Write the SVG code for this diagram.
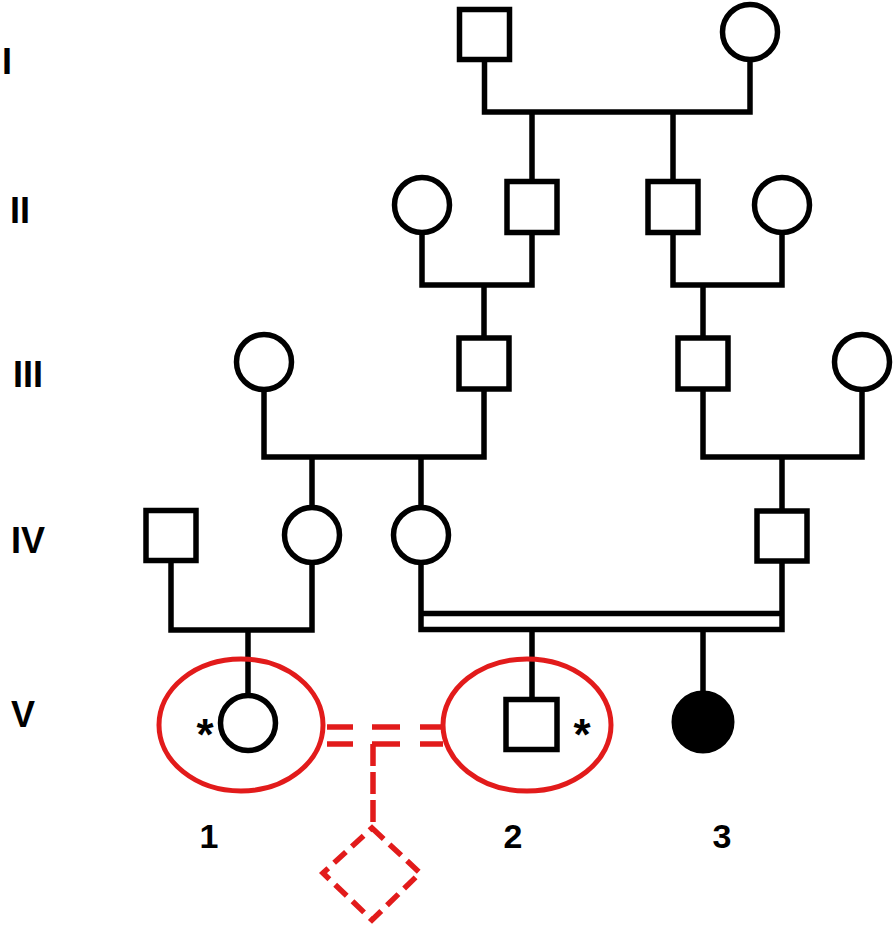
<svg xmlns="http://www.w3.org/2000/svg" width="894" height="928" viewBox="0 0 894 928">
<style>
.n{fill:#fff;stroke:#000;stroke-width:5.5}
.f{fill:#000;stroke:#000;stroke-width:3}
.l{fill:none;stroke:#000;stroke-width:5.5;stroke-linecap:square}
.r{fill:none;stroke:#e21b1b;stroke-width:5}
.rd{fill:none;stroke:#e21b1b;stroke-width:5.5}
.t{font-family:"Liberation Sans",Arial,sans-serif;font-weight:bold;font-size:36px;fill:#000}
.a{font-family:"Liberation Sans",Arial,sans-serif;font-weight:bold;font-size:34px;fill:#000;text-anchor:middle}
.s{font-family:"Liberation Sans",Arial,sans-serif;font-weight:bold;font-size:44px;fill:#000;text-anchor:middle}
</style>
<rect width="894" height="928" fill="#fff"/>
<g id="connectors">
<path class="l" d="M484.5 60V112H750V60M532 112V180M673 112V180"/>
<path class="l" d="M422 233V285H532V233M484 285V337M673 233V285H782V233M703 285V337"/>
<path class="l" d="M264 390V457H484V389M312 457V507M421 457V507M703 389V457H862V390M782 457V510"/>
<path class="l" d="M171 563V630H312V563M248 630V695"/>
<path class="l" d="M421 563V629.5H782V563M421 613.5H782M532 629.5V697M703 629.5V692"/>
<g id="red-link">
<path class="rd" d="M327 727H353M372 727H400M420 727H443M327 744H353M372 744H400M420 744H443"/>
<path class="rd" d="M373 744V822" stroke-dasharray="22 6"/>
</g>
</g>
<g id="I-1"><rect class="n" x="459.5" y="9.5" width="50" height="50"/></g>
<g id="I-2"><circle class="n" cx="750" cy="32" r="27.5"/></g>
<g id="II-1"><circle class="n" cx="422" cy="205" r="27.5"/></g>
<g id="II-2"><rect class="n" x="507" y="181.5" width="50" height="51"/></g>
<g id="II-3"><rect class="n" x="648" y="181.5" width="50" height="51"/></g>
<g id="II-4"><circle class="n" cx="782" cy="205" r="27.5"/></g>
<g id="III-1"><circle class="n" cx="264" cy="362" r="27.5"/></g>
<g id="III-2"><rect class="n" x="459" y="338" width="50" height="51"/></g>
<g id="III-3"><rect class="n" x="678" y="338" width="50" height="51"/></g>
<g id="III-4"><circle class="n" cx="862" cy="362" r="27.5"/></g>
<g id="IV-1"><rect class="n" x="146" y="510.5" width="50" height="50"/></g>
<g id="IV-2"><circle class="n" cx="312" cy="535" r="27.5"/></g>
<g id="IV-3"><circle class="n" cx="421" cy="535" r="27.5"/></g>
<g id="IV-4"><rect class="n" x="757" y="511" width="50" height="50"/></g>
<g id="V-1"><circle class="n" cx="248" cy="723" r="27.5"/><text class="s" x="205" y="750">*</text><ellipse class="r" cx="241" cy="725" rx="82" ry="66"/></g>
<g id="V-2"><rect class="n" x="506" y="699.5" width="51" height="50"/><text class="s" x="582" y="750">*</text><ellipse class="r" cx="527" cy="725" rx="84" ry="66"/></g>
<g id="V-3"><circle class="f" cx="703" cy="722" r="30"/></g>
<g id="unborn"><path class="rd" d="M372 828L420 873L372 920L323 873Z" stroke-dasharray="16 8"/></g>
<g id="labels">
<text class="t" x="2" y="74">I</text>
<text class="t" x="10" y="223">II</text>
<text class="t" x="13" y="387">III</text>
<text class="t" x="11" y="553">IV</text>
<text class="t" x="11" y="727">V</text>
<text class="a" x="209" y="848">1</text>
<text class="a" x="513" y="848">2</text>
<text class="a" x="722" y="848">3</text>
</g>
</svg>
